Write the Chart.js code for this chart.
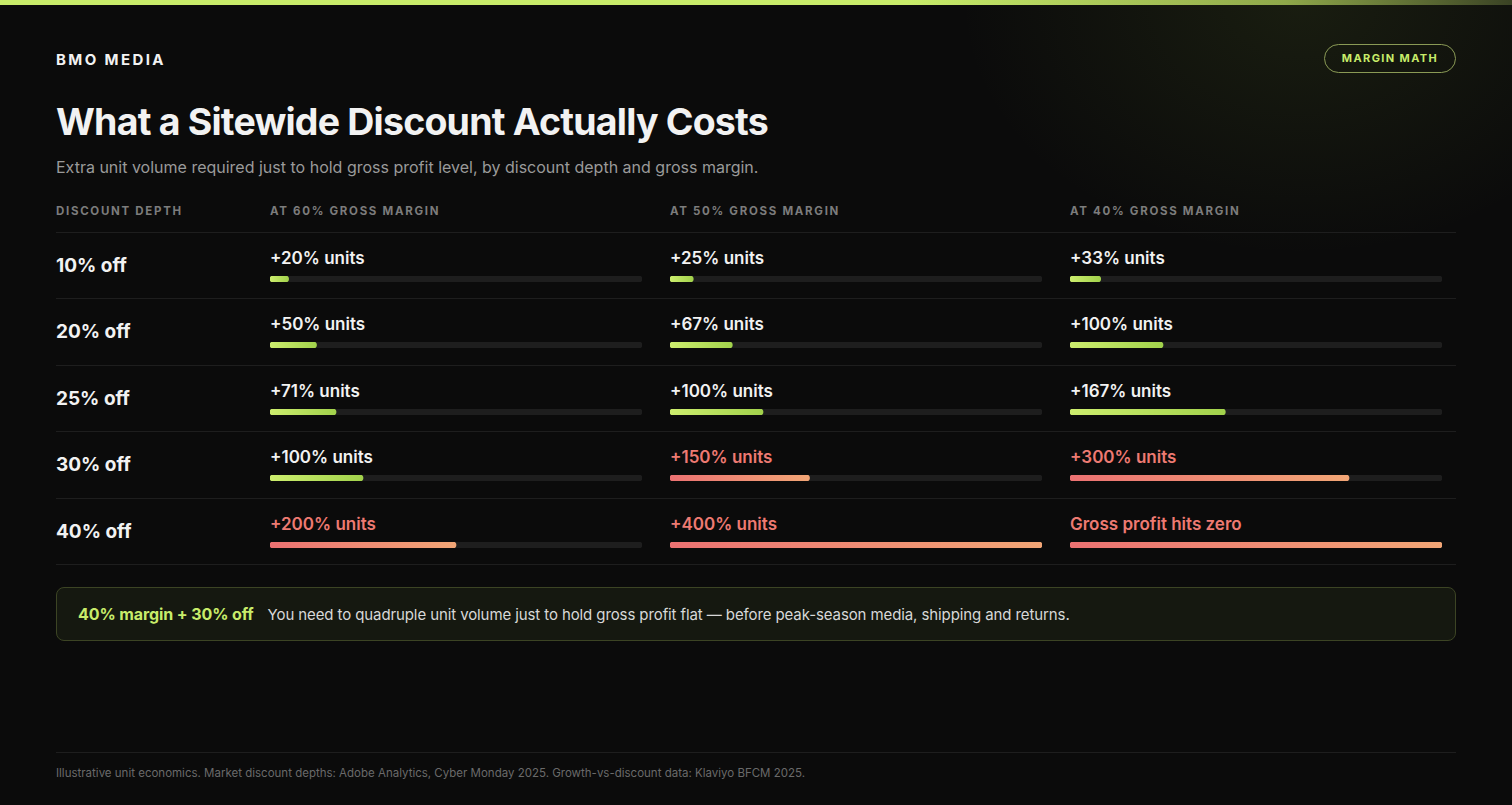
<!DOCTYPE html>
<html><head><meta charset="utf-8">
<script src="https://cdn.jsdelivr.net/npm/chart.js@4"></script>
<style>
html,body{margin:0;padding:0;background:#0b0b0b;width:1512px;height:805px;overflow:hidden;font-family:Inter,"Noto Sans",sans-serif;color:#f2f2f2}
.topbar{position:absolute;left:0;top:0;width:1512px;height:5px;background:linear-gradient(90deg,#c8ec6a 0%,#c8ec6a 60%,#8fa84a 85%,#3a4224 100%)}
.glow{position:absolute;left:900px;top:-300px;width:800px;height:600px;background:radial-gradient(ellipse at center,rgba(120,150,50,0.13),rgba(0,0,0,0) 60%)}
.brand{position:absolute;left:56px;top:50px;font-size:15px;font-weight:700;letter-spacing:2.4px}
.pill{position:absolute;left:1324px;top:44px;width:130px;height:27px;border:1px solid #8a9a55;border-radius:15px;color:#c8ec6a;font-size:11px;font-weight:700;letter-spacing:1.4px;text-align:center;line-height:27px}
h1{position:absolute;left:56px;top:99px;margin:0;font-size:37.5px;font-weight:700;letter-spacing:-0.8px}
.sub{position:absolute;left:56px;top:157px;font-size:16px;color:#9a9a9a}
.hdr{position:absolute;top:204px;font-size:11.5px;font-weight:700;letter-spacing:1.7px;color:#7c7c7c}
.line{position:absolute;left:56px;width:1400px;height:1px;background:#1e1e1e}
.rowlab{position:absolute;left:56px;font-size:19px;font-weight:700}
.cell{position:absolute;width:372px}
.cell .t{font-size:17px;font-weight:600;height:24px}
.cell canvas{display:block;margin-top:4px}
.callout{position:absolute;left:56px;top:587px;width:1398px;height:52px;border:1px solid #3c4424;border-radius:8px;background:#151810;font-size:15px;line-height:52px;color:#d8d8d8;letter-spacing:-0.1px}
.callout b{color:#c8ec6a;margin-left:21px;margin-right:14px;font-size:16px}
.foot{position:absolute;left:56px;top:752px;width:1400px;border-top:1px solid #1e1e1e;padding-top:13px;font-size:11.5px;color:#6a6a6a}
</style></head><body>
<div class="glow"></div><div class="topbar"></div>
<div class="brand">BMO MEDIA</div>
<div class="pill">MARGIN MATH</div>
<h1>What a Sitewide Discount Actually Costs</h1>
<div class="sub">Extra unit volume required just to hold gross profit level, by discount depth and gross margin.</div>
<div id="grid"></div>
<div class="callout"><b>40% margin + 30% off</b>You need to quadruple unit volume just to hold gross profit flat — before peak-season media, shipping and returns.</div>
<div class="foot">Illustrative unit economics. Market discount depths: Adobe Analytics, Cyber Monday 2025. Growth-vs-discount data: Klaviyo BFCM 2025.</div>
<script>
const headers = ["DISCOUNT DEPTH","AT 60% GROSS MARGIN","AT 50% GROSS MARGIN","AT 40% GROSS MARGIN"];
const discounts = ["10% off","20% off","25% off","30% off","40% off"];
const margin60 = [20,50,71,100,200];
const margin50 = [25,67,100,150,400];
const margin40 = [33,100,167,300,null]; // null = gross profit hits zero
const danger60 = [false,false,false,false,true];
const danger50 = [false,false,false,true,true];
const danger40 = [false,false,false,true,true];
const scaleMax = 400;

const grid = document.getElementById('grid');
const colX = [56,270,670,1070];
headers.forEach((h,i)=>{const d=document.createElement('div');d.className='hdr';d.style.left=colX[i]+'px';d.textContent=h;grid.appendChild(d);});
const rowTop = 232, rowH = 66.4;
for(let r=0;r<=discounts.length;r++){const l=document.createElement('div');l.className='line';l.style.top=(rowTop+r*rowH)+'px';grid.appendChild(l);}
const cols=[margin60,margin50,margin40];
const dangers=[danger60,danger50,danger40];
discounts.forEach((d,r)=>{
  const y=rowTop+r*rowH;
  const lab=document.createElement('div');lab.className='rowlab';lab.style.top=(y+22)+'px';lab.textContent=d;grid.appendChild(lab);
  cols.forEach((arr,c)=>{
    const v=arr[r];
    const danger = dangers[c][r];
    const cell=document.createElement('div');cell.className='cell';cell.style.left=colX[c+1]+'px';cell.style.top=(y+16)+'px';
    const t=document.createElement('div');t.className='t';t.style.color=danger?'#ee7a72':'#f2f2f2';
    t.textContent = v===null ? 'Gross profit hits zero' : `+${v}% units`;
    const cv=document.createElement('canvas');cv.width=372;cv.height=6;cv.style.width='372px';cv.style.height='6px';
    cell.appendChild(t);cell.appendChild(cv);grid.appendChild(cell);
    const val = v===null ? scaleMax : Math.min(v,scaleMax);
    new Chart(cv,{type:'bar',data:{labels:[''],datasets:[
      {data:[val],grouped:false,order:0,barPercentage:1,categoryPercentage:1,borderRadius:3,borderSkipped:false,
       backgroundColor:(ctx)=>{const ca=ctx.chart.chartArea;if(!ca)return danger?'#ee7a72':'#b8e060';
         const g=ctx.chart.ctx.createLinearGradient(ca.left,0,ca.left+ca.width*val/scaleMax,0);
         if(danger){g.addColorStop(0,'#ec7272');g.addColorStop(1,'#f2a676');}else{g.addColorStop(0,'#cdee6e');g.addColorStop(1,'#a2d24c');}
         return g;}},
      {data:[scaleMax],grouped:false,order:1,barPercentage:1,categoryPercentage:1,borderRadius:3,borderSkipped:false,backgroundColor:'#1e1e1e'}
    ]},options:{indexAxis:'y',responsive:false,animation:false,devicePixelRatio:2,layout:{padding:0},
      plugins:{legend:{display:false},tooltip:{enabled:false}},
      scales:{x:{display:false,min:0,max:scaleMax},y:{display:false}}}});
  });
});
</script>
</body></html>
